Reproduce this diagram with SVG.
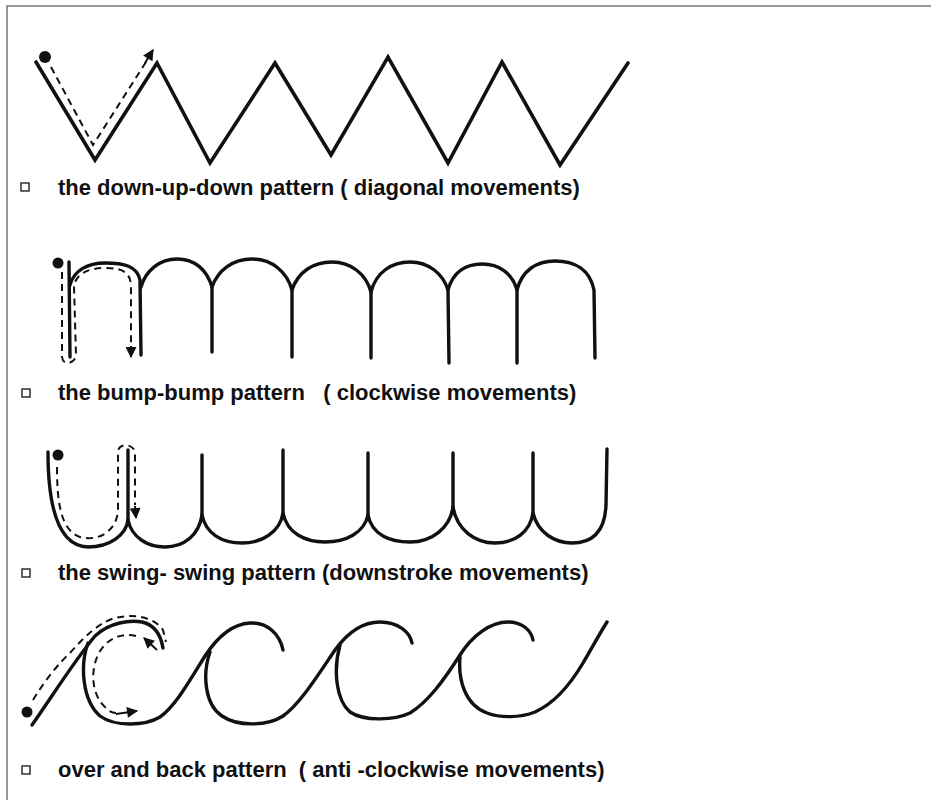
<svg xmlns="http://www.w3.org/2000/svg" width="931" height="800" viewBox="0 0 931 800">
<style>
.solid{fill:none;stroke:#111;stroke-width:3.4;stroke-linecap:round;stroke-linejoin:round}
.zig{fill:none;stroke:#111;stroke-width:3.6;stroke-linecap:round;stroke-linejoin:miter}
.dash{fill:none;stroke:#111;stroke-width:2;stroke-dasharray:7 5}
.guide{fill:none;stroke:#111;stroke-width:2}
.dot{fill:#111}
.lbl{font-family:"Liberation Sans",Arial,sans-serif;font-weight:bold;font-size:22px;fill:#111}
.box{fill:none;stroke:#222;stroke-width:1.4}
</style>
<defs>
<marker id="ah" viewBox="0 0 10 10" refX="9" refY="5" markerWidth="12" markerHeight="11" markerUnits="userSpaceOnUse" orient="auto">
<path d="M0,0 L10,5 L0,10 z" fill="#111"/>
</marker>
</defs>
<rect width="931" height="800" fill="#fff"/>
<path d="M7,800 V6 H931" fill="none" stroke="#777" stroke-width="1.5"/>

<g id="pattern-diagonal">
<polyline class="zig" points="36,62 95,160 157,63 210,163 275,63 331,155 388,57 448,163 502,62 560,165 628,63"/>
</g>
<g id="pattern-bump">
<path class="solid" d="M69,262 L70,357"/>
<path class="solid" d="M70,285 C74,270 88,263 105,263 C124,263 137,266 140,280 L141,355"/>
<path class="solid" d="M141,287 C146,270 160,259 177,259 C195,259 207,270 212,287 L212,352"/>
<path class="solid" d="M212,287 C218,270 233,259 252,259 C272,259 287,272 292,290 L292,357"/>
<path class="solid" d="M292,290 C298,272 313,262 332,262 C351,262 366,274 371,292 L371,358"/>
<path class="solid" d="M371,292 C376,272 392,262 410,262 C429,262 443,274 448,290 L449,363"/>
<path class="solid" d="M448,290 C453,272 466,264 482,264 C499,264 512,273 517,290 L517,363"/>
<path class="solid" d="M517,290 C522,270 537,261 555,261 C575,261 590,270 594,290 L595,358"/>
</g>
<g id="pattern-swing">
<path class="solid" d="M48,452 C48,495 54,546 88,547 C110,547 126,535 128,520"/>
<path class="solid" d="M128,450 L128,520"/>
<path class="solid" d="M128,520 C132,538 148,547 165,547 C184,547 199,535 202,515 L202,455"/>
<path class="solid" d="M202,515 C206,534 222,543 242,543 C262,543 280,532 283,513 L283,450"/>
<path class="solid" d="M283,513 C287,533 305,542 325,542 C346,542 364,533 368,515 L368,453"/>
<path class="solid" d="M368,515 C372,535 390,542 410,542 C432,542 450,528 453,507 L453,453"/>
<path class="solid" d="M453,507 C457,530 475,543 495,543 C515,543 530,532 533,513 L533,453"/>
<path class="solid" d="M533,513 C538,533 555,543 572,543 C594,543 605,530 606,505 L607,449"/>
</g>
<g id="pattern-overback">
<path class="solid" d="M32,725 C55,692 75,660 95,636 C110,622 130,620 142,622 C155,625 161,636 163,648"/>
<path class="solid" d="M88,643 C80,665 82,700 100,716 C115,727 145,726 160,717 C175,707 190,680 205,656 C218,636 232,624 250,623 C268,622 280,635 283,650"/>
<path class="solid" d="M210,652 C202,675 205,705 222,716 C238,727 268,726 283,716 C300,704 318,675 335,650 C348,632 362,622 380,622 C398,622 410,632 412,643"/>
<path class="solid" d="M340,645 C333,670 336,700 350,712 C365,722 395,720 410,713 C428,702 444,680 460,655 C472,636 490,622 508,622 C522,622 531,630 533,640"/>
<path class="solid" d="M460,657 C458,680 465,705 487,713 C500,718 520,718 535,712 C555,703 570,685 583,663 C593,646 600,633 607,622"/>
</g>

<g id="guides">
<circle class="dot" cx="45" cy="57" r="6"/>
<path class="dash" d="M51,67 L93,145 L146,62"/>
<path class="guide" d="M145,63 L153,50" marker-end="url(#ah)"/>

<circle class="dot" cx="58" cy="263" r="5.5"/>
<path class="dash" d="M62,272 L62,357 C63,366 74,364 76,356 L74,286 C76,274 88,268 105,268 C122,268 130,272 131,285 L131,345"/>
<path class="guide" d="M131,346 L131,357" marker-end="url(#ah)"/>

<circle class="dot" cx="58" cy="455" r="5.5"/>
<path class="dash" d="M57,467 C57,500 60,530 80,537 C100,542 117,530 118,510 L118,452 C118,443 133,443 135,452 L135,505"/>
<path class="guide" d="M135,506 L136,518" marker-end="url(#ah)"/>

<circle class="dot" cx="27" cy="712" r="5.5"/>
<path class="dash" d="M33,700 C45,680 60,662 70,653 C85,636 100,622 115,618 C135,613 155,618 163,630 L166,642"/>
<path class="dash" d="M136,636 C120,632 105,640 98,655 C90,672 92,695 105,707 C108,711 112,713 116,713"/>
<path class="guide" d="M157,650 L144,638" marker-end="url(#ah)"/>
<path class="guide" d="M116,714 L137,711" marker-end="url(#ah)"/>
</g>

<g id="label-1">
<rect class="box" x="21" y="183" width="8" height="8"/>
<text class="lbl" x="58" y="195">the down-up-down pattern ( diagonal movements)</text>
</g>
<g id="label-2">
<rect class="box" x="22" y="389" width="8" height="8"/>
<text class="lbl" x="58" y="400" xml:space="preserve">the bump-bump pattern   ( clockwise movements)</text>
</g>
<g id="label-3">
<rect class="box" x="22" y="569" width="8" height="8"/>
<text class="lbl" x="58" y="580">the swing- swing pattern (downstroke movements)</text>
</g>
<g id="label-4">
<rect class="box" x="22" y="766" width="8" height="8"/>
<text class="lbl" x="58" y="777" xml:space="preserve">over and back pattern  ( anti -clockwise movements)</text>
</g>
</svg>
